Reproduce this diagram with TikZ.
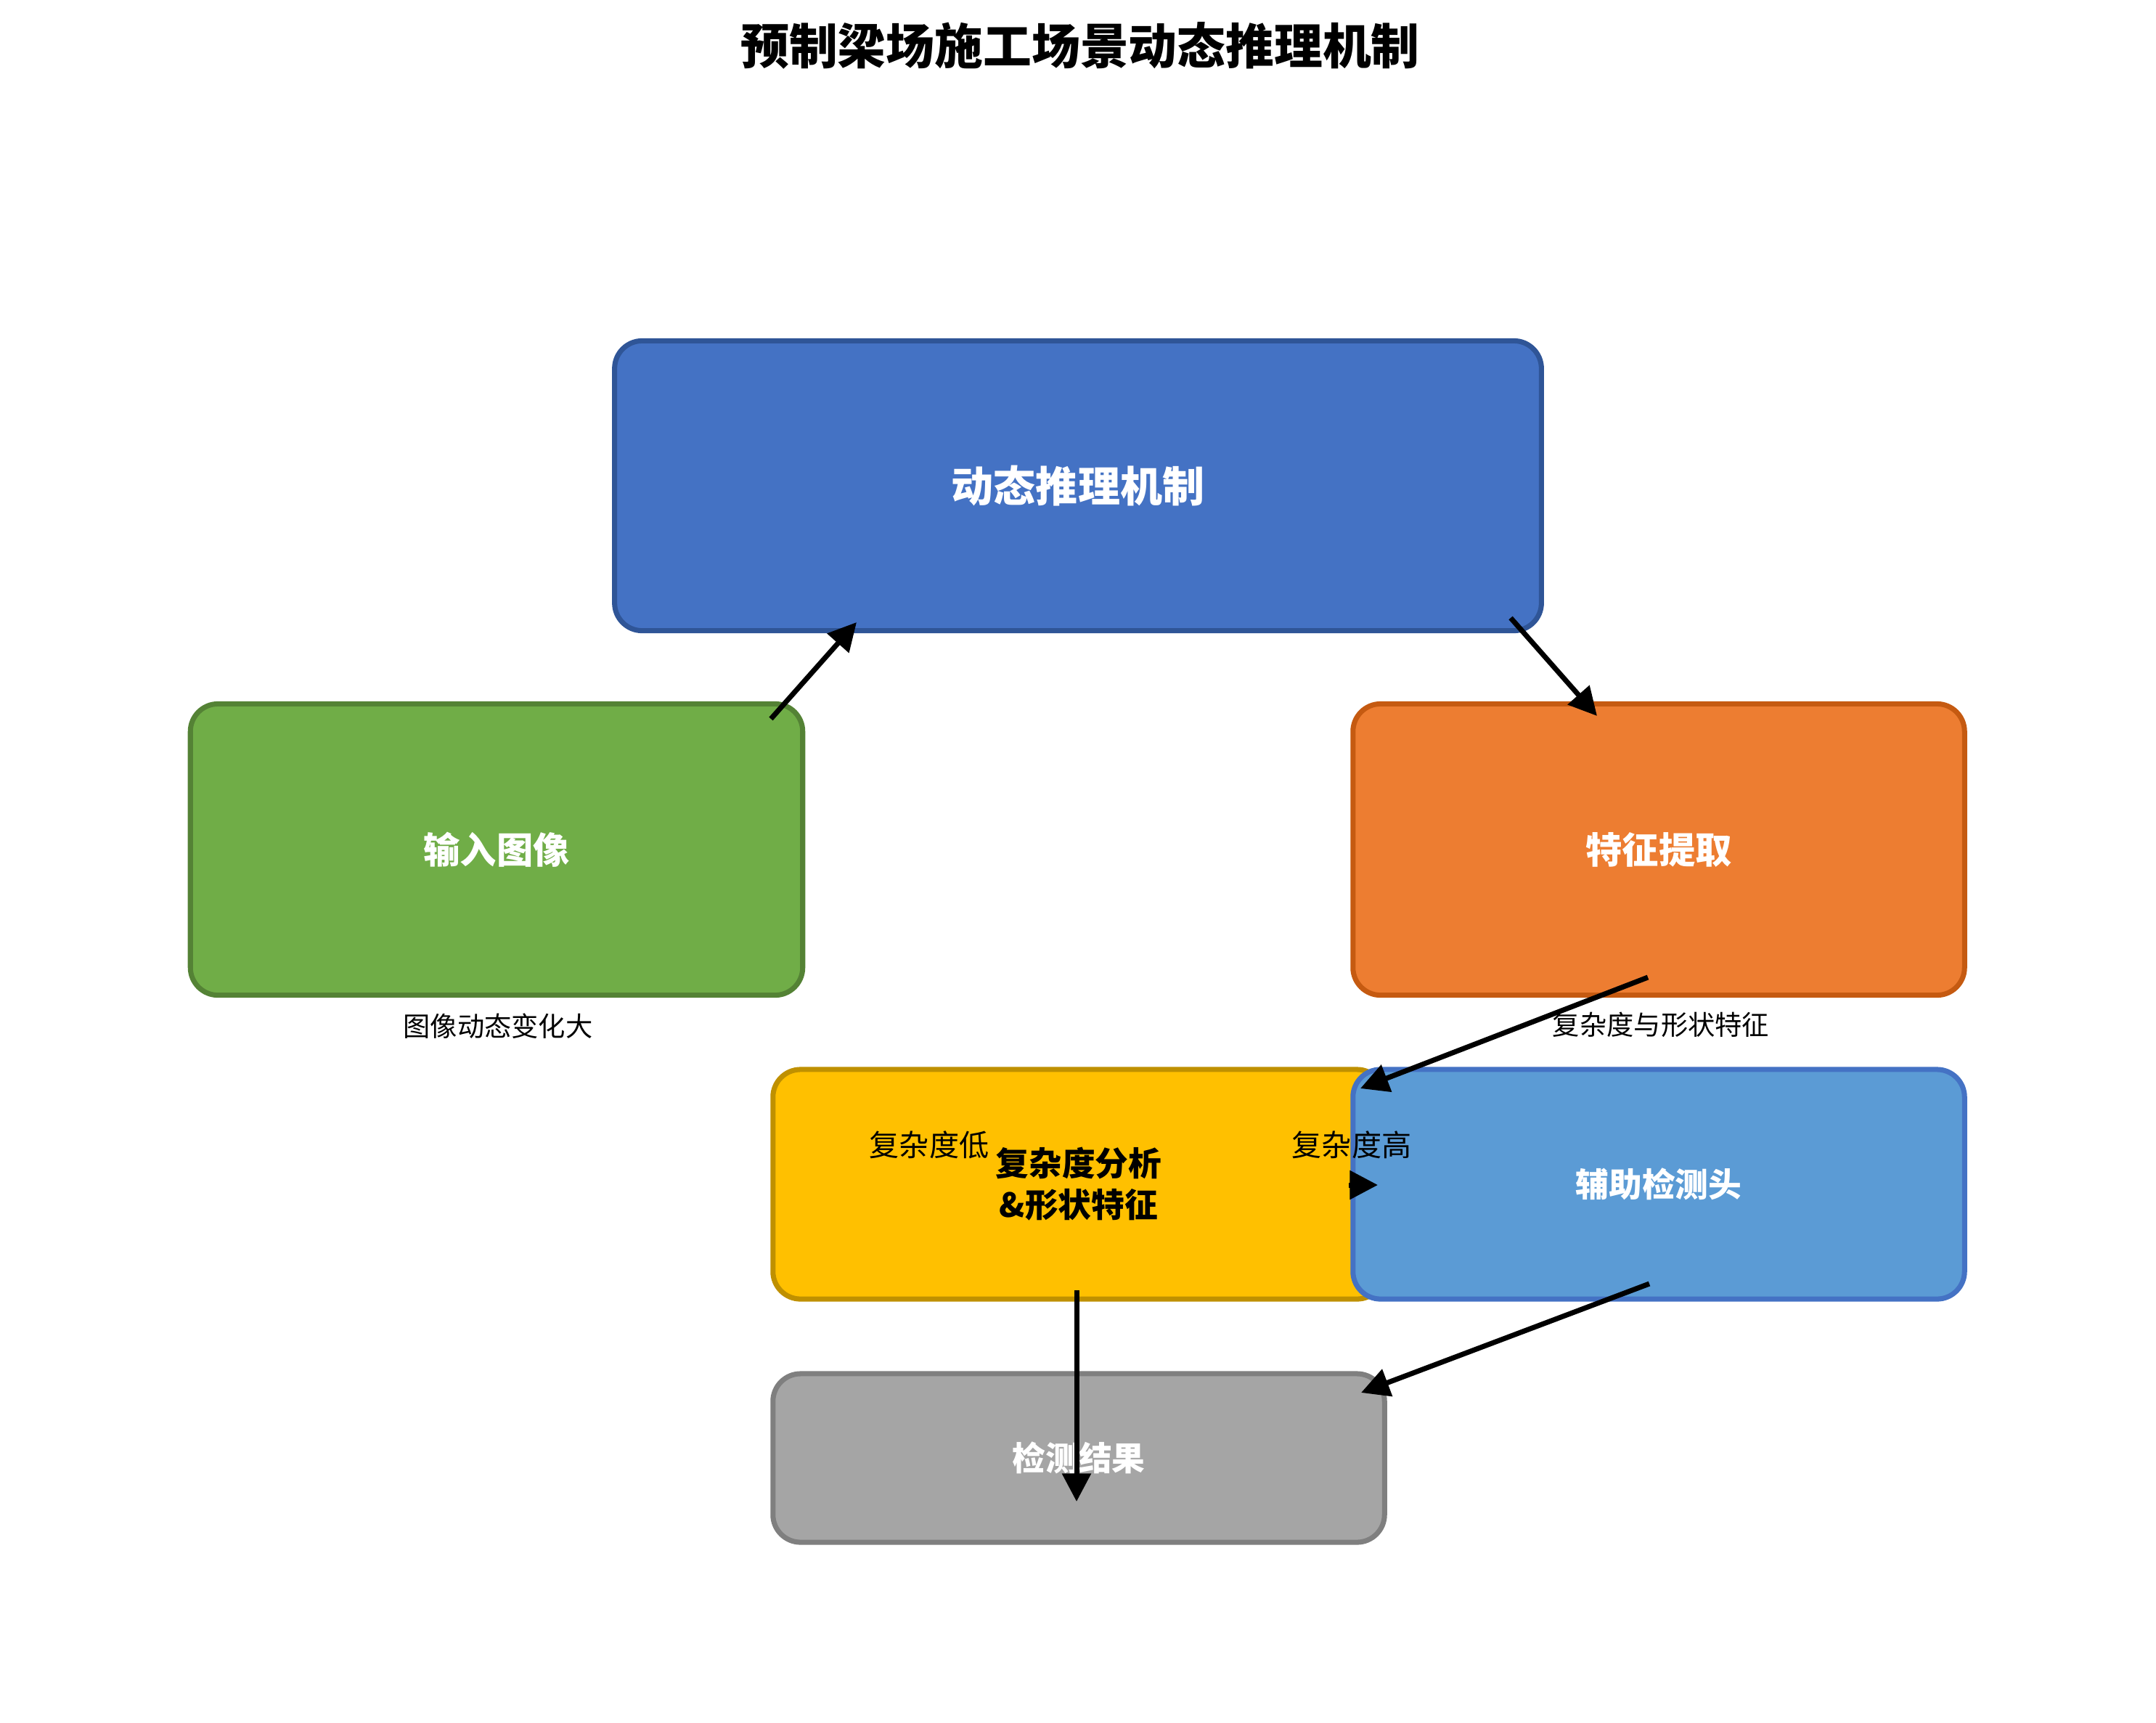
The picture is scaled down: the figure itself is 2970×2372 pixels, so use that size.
\documentclass[tikz,border=0pt]{standalone}
\usepackage{fontspec}
\setmainfont{Noto Sans CJK SC}
\usetikzlibrary{arrows.meta}
\definecolor{cMainF}{HTML}{4472C4}\definecolor{cMainD}{HTML}{2F5597}
\definecolor{cInF}{HTML}{70AD47}\definecolor{cInD}{HTML}{548235}
\definecolor{cFeF}{HTML}{ED7D31}\definecolor{cFeD}{HTML}{C55A11}
\definecolor{cCoF}{HTML}{FFC000}\definecolor{cCoD}{HTML}{BF9000}
\definecolor{cAuF}{HTML}{5B9BD5}\definecolor{cAuD}{HTML}{4472C4}
\definecolor{cReF}{HTML}{A5A5A5}\definecolor{cReD}{HTML}{7F7F7F}
\tikzset{
  boxbase/.style={rounded corners=0.38cm, line width=2pt, inner sep=0pt, align=center, font=\bfseries\fontsize{13pt}{16.2pt}\selectfont, text=white},
  bigtext/.style={font=\bfseries\fontsize{14.3pt}{17pt}\selectfont},
  edgelbl/.style={inner sep=0pt, font=\fontsize{11.7pt}{14pt}\selectfont},
  sublbl/.style={inner sep=0pt, font=\fontsize{10.6pt}{13pt}\selectfont},
  conn/.style={line width=2pt, -{Triangle[length=11pt,width=11pt]}}
}
\begin{document}
\begin{tikzpicture}[x=0.01cm,y=-0.01cm]
\useasboundingbox (0,0) rectangle (2970,2372);
\node[font=\bfseries\fontsize{19pt}{22pt}\selectfont, inner sep=0pt] (title) at (1488,63) {预制梁场施工场景动态推理机制};
\node[boxbase, fill=cMainF, draw=cMainD, minimum width=12.76cm, minimum height=3.99cm, font=\bfseries\fontsize{16.5pt}{20pt}\selectfont] (main) at (1485,669) {动态推理机制};
\node[boxbase, bigtext, fill=cInF, draw=cInD, minimum width=8.43cm, minimum height=4.01cm] (input) at (684,1170) {输入图像};
\node[boxbase, bigtext, fill=cFeF, draw=cFeD, minimum width=8.42cm, minimum height=4.01cm] (feat) at (2285,1170) {特征提取};
\node[boxbase, fill=cCoF, draw=cCoD, minimum width=8.42cm, minimum height=3.16cm, text=black] (comp) at (1486,1631) {复杂度分析\\\&形状特征};
\node[boxbase, fill=cAuF, draw=cAuD, minimum width=8.42cm, minimum height=3.16cm] (aux) at (2285,1631) {辅助检测头};
\node[boxbase, fill=cReF, draw=cReD, minimum width=8.42cm, minimum height=2.32cm] (res) at (1486,2008) {检测结果};
\node[sublbl] (l1) at (686,1413) {图像动态变化大};
\node[sublbl] (l2) at (2288,1411) {复杂度与形状特征};
\node[edgelbl] (l3) at (1280,1577) {复杂度低};
\node[edgelbl] (l4) at (1862,1577) {复杂度高};
\coordinate (a1s) at (1062,990);  \coordinate (a1e) at (1180,857);
\coordinate (a2s) at (2081,851);  \coordinate (a2e) at (2200,986);
\coordinate (a3s) at (2270,1346); \coordinate (a3e) at (1874,1499);
\coordinate (a4s) at (1858,1632); \coordinate (a4e) at (1898,1632);
\coordinate (a5s) at (1483,1777); \coordinate (a5e) at (1483,2068);
\coordinate (a6s) at (2272,1768); \coordinate (a6e) at (1875,1918);
\draw[conn] (a1s) -- (a1e);
\draw[conn] (a2s) -- (a2e);
\draw[conn] (a3s) -- (a3e);
\draw[conn] (a4s) -- (a4e);
\draw[conn] (a5s) -- (a5e);
\draw[conn] (a6s) -- (a6e);
\end{tikzpicture}
\end{document}
